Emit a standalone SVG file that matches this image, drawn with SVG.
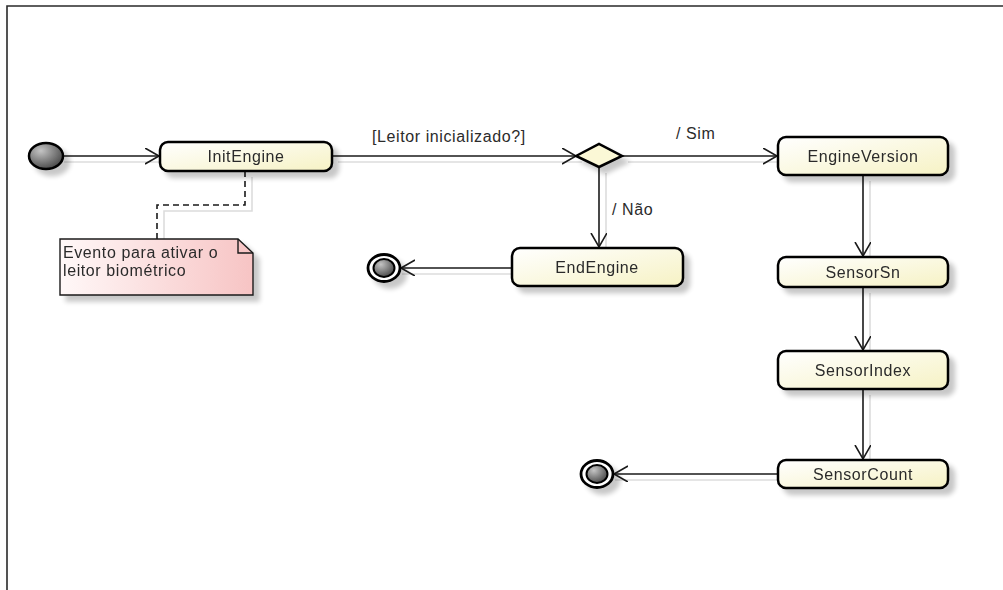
<svg xmlns="http://www.w3.org/2000/svg" width="1003" height="590" viewBox="0 0 1003 590">
  <style>
    .frame { fill: none; stroke: #2a2a2a; stroke-width: 1.6; }
    .state { fill: url(#stateFill); stroke: #000; stroke-width: 2.5; }
    .label { font-family: "Liberation Sans", Arial, sans-serif; font-size: 16px; letter-spacing: 0.6px; fill: #2b2b2b; }
    .center { text-anchor: middle; }
    .edge { fill: none; stroke: #1a1a1a; stroke-width: 1.6; }
    .dash { fill: none; stroke: #1a1a1a; stroke-width: 1.6; stroke-dasharray: 6 4; }
    .edge-shadow { fill: none; stroke: #dcdcdc; stroke-width: 1.6; }
  </style>
  <defs>
    <linearGradient id="stateFill" x1="0" y1="0" x2="1" y2="1">
      <stop offset="0" stop-color="#ffffff"/>
      <stop offset="1" stop-color="#f6f2c4"/>
    </linearGradient>
    <linearGradient id="noteFill" x1="0" y1="0" x2="1" y2="0">
      <stop offset="0" stop-color="#fff8f8"/>
      <stop offset="1" stop-color="#f7c4c4"/>
    </linearGradient>
    <radialGradient id="ballFill" cx="0.35" cy="0.3" r="0.8">
      <stop offset="0" stop-color="#c4c4c4"/>
      <stop offset="1" stop-color="#3e3e3e"/>
    </radialGradient>
    <filter id="drop" x="-20%" y="-30%" width="150%" height="180%">
      <feGaussianBlur in="SourceAlpha" stdDeviation="2.5"/>
      <feOffset dx="6" dy="6" result="b"/>
      <feComponentTransfer><feFuncA type="linear" slope="0.22"/></feComponentTransfer>
      <feMerge><feMergeNode/><feMergeNode in="SourceGraphic"/></feMerge>
    </filter>
    <marker id="open" markerUnits="userSpaceOnUse" markerWidth="16" markerHeight="18" refX="14" refY="8" orient="auto">
      <path d="M0,0 L14,8 L0,16" fill="none" stroke="#1a1a1a" stroke-width="1.6"/>
    </marker>
  </defs>

  <rect width="1003" height="590" fill="#fff"/>
  <!-- diagram frame -->
  <polyline class="frame" points="7,590 7,6 1003,6"/>

  <!-- connectors -->
  <g id="connectors">
    <g class="shadows">
      <line class="edge-shadow" x1="64" y1="162" x2="166" y2="162"/>
      <line class="edge-shadow" x1="338" y1="162" x2="582" y2="162"/>
      <line class="edge-shadow" x1="628" y1="162" x2="784" y2="162"/>
      <line class="edge-shadow" x1="606" y1="173" x2="606" y2="254"/>
      <line class="edge-shadow" x1="402" y1="274" x2="518" y2="274"/>
      <line class="edge-shadow" x1="870" y1="181" x2="870" y2="263"/>
      <line class="edge-shadow" x1="870" y1="293" x2="870" y2="357"/>
      <line class="edge-shadow" x1="870" y1="395" x2="870" y2="466"/>
      <line class="edge-shadow" x1="615" y1="480" x2="784" y2="480"/>
      <polyline class="edge-shadow" points="252,177 252,211 164,211 164,245"/>
    </g>
    <line class="edge" x1="63" y1="156" x2="159" y2="156" marker-end="url(#open)"/>
    <line class="edge" x1="332" y1="156" x2="576" y2="156" marker-end="url(#open)"/>
    <text class="label" x="372" y="142">[Leitor inicializado?]</text>
    <line class="edge" x1="622" y1="156" x2="777" y2="156" marker-end="url(#open)"/>
    <text class="label" x="676" y="139">/ Sim</text>
    <line class="edge" x1="599" y1="167" x2="599" y2="247" marker-end="url(#open)"/>
    <text class="label" x="612" y="215">/ Não</text>
    <line class="edge" x1="512" y1="268" x2="401" y2="268" marker-end="url(#open)"/>
    <line class="edge" x1="863" y1="175" x2="863" y2="256" marker-end="url(#open)"/>
    <line class="edge" x1="863" y1="287" x2="863" y2="350" marker-end="url(#open)"/>
    <line class="edge" x1="863" y1="389" x2="863" y2="459" marker-end="url(#open)"/>
    <line class="edge" x1="778" y1="474" x2="614" y2="474" marker-end="url(#open)"/>
    <polyline class="dash" points="245,171 245,205 157,205 157,239"/>
  </g>

  <!-- start -->
  <g id="start" filter="url(#drop)">
    <ellipse cx="46" cy="156" rx="17" ry="13" fill="url(#ballFill)" stroke="#000" stroke-width="2.5"/>
  </g>

  <g id="initEngine" filter="url(#drop)">
    <rect class="state" x="160" y="142" width="172" height="29" rx="8"/>
    <text class="label center" x="246" y="162">InitEngine</text>
  </g>

  <g id="note" filter="url(#drop)">
    <path d="M60,239 H238 L253,253 V295 H60 Z" fill="url(#noteFill)" stroke="#1a1a1a" stroke-width="1.4"/>
    <path d="M238,239 V253 H253" fill="none" stroke="#1a1a1a" stroke-width="1.4"/>
    <text class="label" x="63" y="258">Evento para ativar o</text>
    <text class="label" x="63" y="276">leitor biométrico</text>
  </g>

  <g id="decision" filter="url(#drop)">
    <polygon points="576,156 599,144 622,156 599,167" fill="#fbf8d6" stroke="#000" stroke-width="2.5"/>
  </g>

  <g id="endEngine" filter="url(#drop)">
    <rect class="state" x="512" y="248" width="171" height="38" rx="8"/>
    <text class="label center" x="597" y="273">EndEngine</text>
  </g>

  <g id="final1" filter="url(#drop)">
    <ellipse cx="384" cy="268" rx="16" ry="13.5" fill="#fff" stroke="#000" stroke-width="2.8"/>
    <ellipse cx="384" cy="268" rx="10.5" ry="9" fill="url(#ballFill)" stroke="#000" stroke-width="2"/>
  </g>

  <g id="engineVersion" filter="url(#drop)">
    <rect class="state" x="778" y="137" width="170" height="38" rx="8"/>
    <text class="label center" x="863" y="162">EngineVersion</text>
  </g>

  <g id="sensorSn" filter="url(#drop)">
    <rect class="state" x="778" y="257" width="170" height="30" rx="8"/>
    <text class="label center" x="863" y="278">SensorSn</text>
  </g>

  <g id="sensorIndex" filter="url(#drop)">
    <rect class="state" x="778" y="351" width="170" height="38" rx="8"/>
    <text class="label center" x="863" y="376">SensorIndex</text>
  </g>

  <g id="sensorCount" filter="url(#drop)">
    <rect class="state" x="778" y="460" width="170" height="28" rx="8"/>
    <text class="label center" x="863" y="480">SensorCount</text>
  </g>

  <g id="final2" filter="url(#drop)">
    <ellipse cx="597" cy="474" rx="16" ry="13.5" fill="#fff" stroke="#000" stroke-width="2.8"/>
    <ellipse cx="597" cy="474" rx="10.5" ry="9" fill="url(#ballFill)" stroke="#000" stroke-width="2"/>
  </g>
</svg>
